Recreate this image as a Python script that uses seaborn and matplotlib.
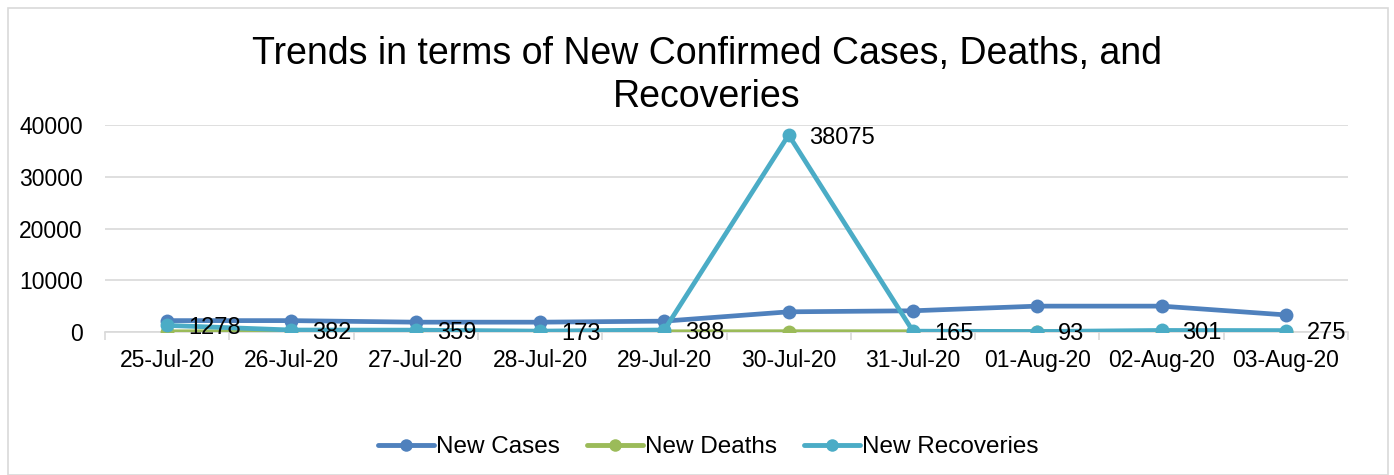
import matplotlib
matplotlib.use("Agg")
import matplotlib.pyplot as plt
import seaborn as sns
import pandas as pd
import numpy as np
from matplotlib.patches import Rectangle
from matplotlib.ticker import FixedLocator

dates = ["25-Jul-20", "26-Jul-20", "27-Jul-20", "28-Jul-20", "29-Jul-20",
         "30-Jul-20", "31-Jul-20", "01-Aug-20", "02-Aug-20", "03-Aug-20"]
new_cases = [2200, 2200, 1900, 1900, 2100, 3900, 4100, 5000, 5000, 3300]
new_deaths = [40, 50, 40, 30, 40, 60, 50, 70, 60, 50]
new_recoveries = [1278, 382, 359, 173, 388, 38075, 165, 93, 301, 275]

series_names = ["New Cases", "New Deaths", "New Recoveries"]
colors = ["#4F81BD", "#9BBB59", "#4BACC6"]

sns.set_theme(style="white")
plt.rcParams["font.family"] = ["Liberation Sans", "DejaVu Sans"]
plt.rcParams["text.color"] = "black"
plt.rcParams["xtick.color"] = "black"
plt.rcParams["ytick.color"] = "black"

df = pd.DataFrame({"pos": np.arange(len(dates)), "Date": dates,
                   "New Cases": new_cases, "New Deaths": new_deaths,
                   "New Recoveries": new_recoveries})
long = df.melt(id_vars=["pos", "Date"], value_vars=series_names,
               var_name="Series", value_name="Value")

fig = plt.figure(figsize=(13.94, 4.75), dpi=100)
ax = fig.add_axes([105/1394, 143/475, (1348-105)/1394, (332-125)/475])

sns.lineplot(data=long, x="pos", y="Value", hue="Series", hue_order=series_names,
             palette=colors, marker="o", markersize=10, markeredgewidth=0,
             linewidth=3.4, ax=ax, legend=True)

fs = 16.5
ax.set_xlim(-0.5, len(dates) - 0.5)
ax.set_ylim(0, 40000)
ax.set_yticks([0, 10000, 20000, 30000, 40000])
ax.set_yticklabels(["0", "10000", "20000", "30000", "40000"], fontsize=fs)
ax.set_xticks(np.arange(len(dates)))
ax.set_xticklabels(dates, fontsize=fs)
ax.set_xlabel("")
ax.set_ylabel("")
ax.yaxis.grid(True, color="#D9D9D9", linewidth=1.2)
ax.set_axisbelow(True)
for s in ["top", "right", "left"]:
    ax.spines[s].set_visible(False)
ax.spines["bottom"].set_color("#D9D9D9")
ax.spines["bottom"].set_linewidth(1.2)
ax.spines["bottom"].set_zorder(0)
ax.tick_params(axis="y", length=0, pad=16)
ax.tick_params(axis="x", which="major", length=0, pad=12)
ax.xaxis.set_minor_locator(FixedLocator(np.arange(-0.5, len(dates), 1.0)))
ax.tick_params(axis="x", which="minor", length=6, color="#D9D9D9", width=1.2, bottom=True)

for i, v in enumerate(new_recoveries):
    ax.annotate(str(v), (i, v), xytext=(15, -2), textcoords="offset points",
                ha="left", va="center", fontsize=17, color="black")

handles, labels = ax.get_legend_handles_labels()
ax.legend_.remove()
for h in handles:
    h.set_linewidth(3.5)
    h.set_markersize(9)
fig.legend(handles, labels, loc="center", bbox_to_anchor=(0.508, 28/475), ncol=3,
           frameon=False, fontsize=17.5, handlelength=2.3, handletextpad=0.1,
           columnspacing=1.1)

fig.text(0.507, 0.841, "Trends in terms of New Confirmed Cases, Deaths, and\nRecoveries",
         ha="center", va="center", fontsize=27, linespacing=1.25)

fig.patches.append(Rectangle((8/1394, 0), 1380/1394, 467/475, transform=fig.transFigure,
                             fill=False, edgecolor="#D9D9D9", linewidth=1.2))

fig.savefig("out.png", dpi=100, facecolor="white")
